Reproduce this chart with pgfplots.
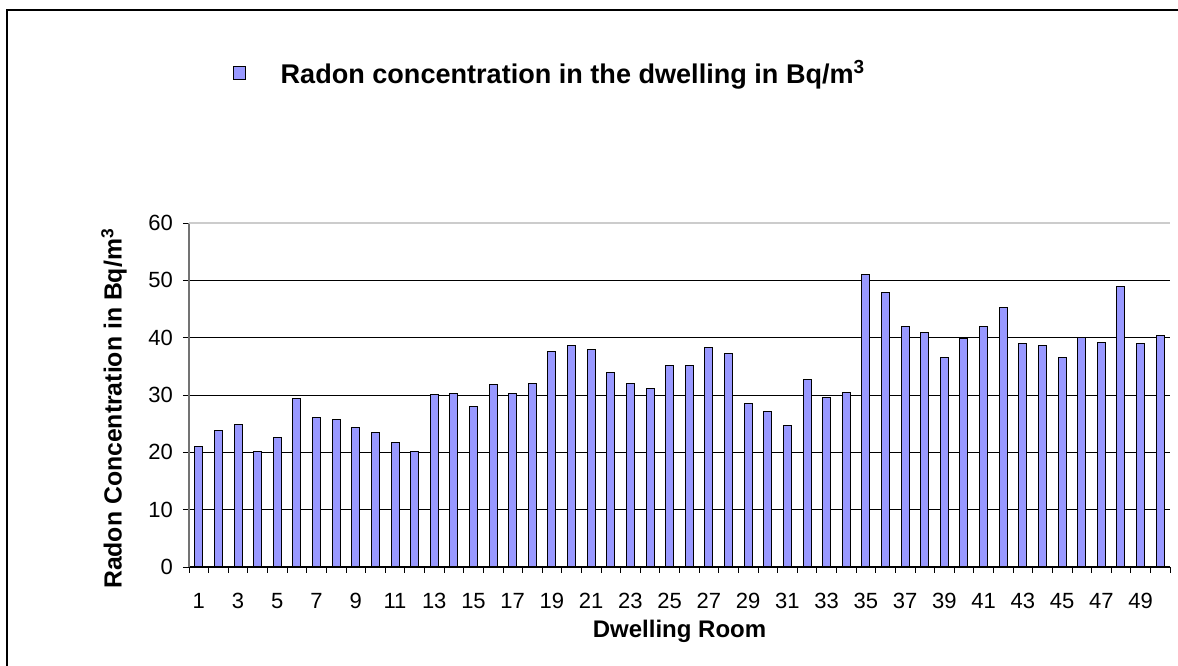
\documentclass[border=0pt]{standalone}
\usepackage{fontspec}
\setmainfont{Liberation Sans}
\usepackage{pgfplots}
\usepackage{pgfplotstable}
\pgfplotsset{compat=1.18}
\definecolor{barblue}{HTML}{9999FF}
\pgfplotstableread{
room rn
1 21.0
2 23.8
3 24.9
4 20.2
5 22.6
6 29.4
7 26.0
8 25.7
9 24.3
10 23.5
11 21.8
12 20.2
13 30.0
14 30.3
15 28.0
16 31.9
17 30.3
18 32.0
19 37.5
20 38.7
21 37.9
22 34.0
23 32.0
24 31.2
25 35.1
26 35.1
27 38.2
28 37.3
29 28.5
30 27.1
31 24.6
32 32.7
33 29.6
34 30.4
35 51.1
36 47.8
37 42.0
38 40.9
39 36.5
40 39.8
41 42.0
42 45.3
43 39.0
44 38.7
45 36.5
46 40.1
47 39.2
48 48.9
49 39.0
50 40.3
}\data
\begin{document}
\begin{tikzpicture}
\useasboundingbox (0,0) rectangle (883.5pt,499.5pt);
\fill[white] (0,0) rectangle (883.5pt,499.5pt);
\draw[black, line width=1.3pt] (5.25pt,-20pt) -- (5.25pt,492pt) -- (920pt,492pt);
\begin{axis}[
  at={(141.75pt,74.25pt)}, anchor=south west,
  scale only axis, width=735.75pt, height=258pt,
  xmin=0.5, xmax=50.5, ymin=0, ymax=60,
  ybar, bar width=6pt,
  axis x line=bottom, axis y line=left,
  x axis line style={-, black, line width=0.8pt},
  y axis line style={-, black!55, line width=0.8pt},
  xtick={0.5,1.5,...,50.5}, xticklabels={},
  extra x ticks={1,3,...,49},
  extra x tick labels={1,3,5,7,9,11,13,15,17,19,21,23,25,27,29,31,33,35,37,39,41,43,45,47,49},
  extra x tick style={major tick length=0pt, grid=none,
    xticklabel style={anchor=center, yshift=-25.5pt}},
  ytick={0,10,...,60},
  tick align=outside, major tick length=4.5pt,
  tick style={black, line width=0.6pt},
  ymajorgrids, grid style={black, line width=0.6pt},
  /pgf/number format/assume math mode=true,
  ticklabel style={font=\fontsize{16.5}{19}\selectfont},
  yticklabel style={anchor=east, xshift=-4pt},
  xlabel={Dwelling Room},
  ylabel={Radon Concentration in Bq/m\textsuperscript{3}},
  xlabel style={font=\bfseries\fontsize{18}{21}\selectfont, at={(axis description cs:0.5,0)}, anchor=center, yshift=-48pt},
  ylabel style={font=\bfseries\fontsize{18.6}{21}\selectfont, at={(axis description cs:-0.0765,0.46)}, anchor=center},
  legend style={at={(0.04,1.436)}, anchor=west, draw=none, fill=none,
    font=\bfseries\fontsize{20.3}{24}\selectfont,
    /tikz/every odd column/.append style={column sep=24pt}},
]
\addplot[fill=barblue, draw=black, line width=0.75pt,
  legend image code/.code={\draw[fill=barblue, draw=black, line width=0.75pt] (0pt,-4.7pt) rectangle (9.4pt,4.7pt);}]
  table[x=room, y=rn] {\data};
\addlegendentry{Radon concentration in the dwelling in Bq/m\textsuperscript{3}}
\draw[black!20, line width=0.8pt] (axis cs:0.5,60) -- (axis cs:50.5,60);
\end{axis}
\end{tikzpicture}
\end{document}
